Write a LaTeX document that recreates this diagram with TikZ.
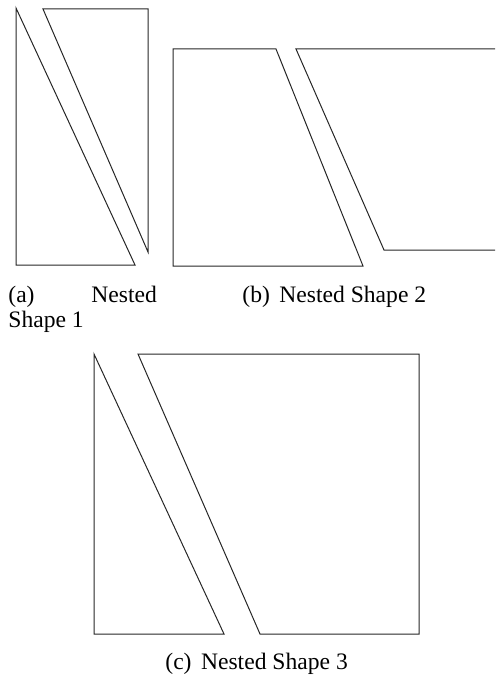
\documentclass[tikz,border=0pt]{standalone}
\usepackage{fontspec}
\setmainfont{Liberation Serif}
\begin{document}
\begin{tikzpicture}[x=0.5pt,y=-0.5pt,
  edge/.style={draw=black!85,line width=0.5pt,line join=miter},
  captext/.style={anchor=base west,inner sep=0pt,font=\fontsize{11.8}{12.5}\selectfont}]
\useasboundingbox (0,0) rectangle (495,679);
% (a) Nested Shape 1
\draw[edge] (16,8) -- (16,265) -- (135,265) -- cycle;
\draw[edge] (43,9) -- (148,9) -- (148,252) -- cycle;
% (b) Nested Shape 2
\draw[edge] (173,49) -- (276,49) -- (363,266) -- (173,266) -- cycle;
\draw[edge] (495,49) -- (296,49) -- (384,250) -- (495,250);
% (c) Nested Shape 3
\draw[edge] (94,354) -- (94,634) -- (224,634) -- cycle;
\draw[edge] (138,354) -- (419,354) -- (419,634) -- (260,634) -- cycle;
% captions
\node[captext] (capa1) at (8,302) {(a)};
\node[captext] (capa2) at (91,302) {Nested};
\node[captext] (capa3) at (8,327) {Shape 1};
\node[captext] (capb) at (242,302) {(b)\hspace{0.4em}Nested Shape 2};
\node[captext] (capc) at (165,669) {(c)\hspace{0.4em}Nested Shape 3};
\end{tikzpicture}
\end{document}
